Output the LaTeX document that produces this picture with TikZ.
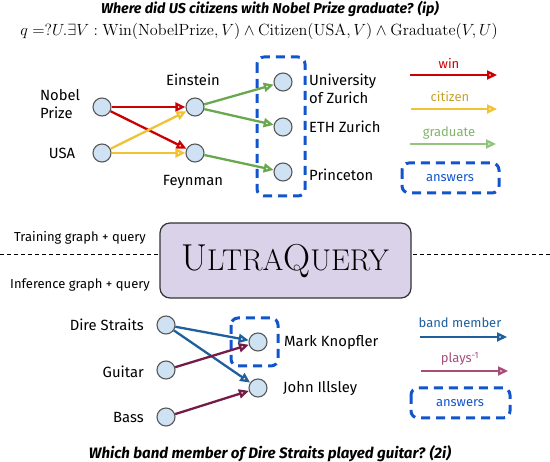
\documentclass[tikz,border=0pt]{standalone}
\usepackage[no-math]{fontspec}
\usepackage{graphicx}
\setmainfont{Fira Sans}
\usetikzlibrary{arrows.meta}
\definecolor{nodefill}{HTML}{CFE2F3}
\definecolor{nodedraw}{HTML}{595959}
\definecolor{cwin}{HTML}{CC0000}
\definecolor{ccit}{HTML}{F1C232}
\definecolor{ccittxt}{HTML}{C9A227}
\definecolor{cgrad}{HTML}{6AA84F}
\definecolor{cgradl}{HTML}{93C47D}
\definecolor{cans}{HTML}{1155CC}
\definecolor{cband}{HTML}{1F5F9E}
\definecolor{cplay}{HTML}{741B47}
\definecolor{cplayl}{HTML}{A64D79}
\definecolor{cuq}{HTML}{D9D2E9}
\newfontfamily\lmfont{Latin Modern Roman}
\begin{document}
\begin{tikzpicture}[x=1pt,y=-1pt,
  ent/.style={circle,draw=nodedraw,fill=nodefill,line width=1.1pt,minimum size=18pt,inner sep=0pt},
  lbl/.style={font=\fontsize{14.8}{17}\selectfont,inner sep=0pt},
  leg/.style={font=\fontsize{13}{15}\selectfont,inner sep=0pt},
  mid/.style={font=\fontsize{13}{15}\selectfont,inner sep=0pt},
  rel/.style={line width=2.3pt,-{Triangle[open,length=10pt,width=9pt]}},
  ansbox/.style={draw=cans,line width=3pt,dash pattern=on 9pt off 6pt,rounded corners=7pt},
  ttl/.style={font=\bfseries\itshape,inner sep=0pt}]
\useasboundingbox (0,0) rectangle (550,462);
% titles
\node[ttl,font=\fontsize{14.3}{16}\selectfont\bfseries\itshape] (t1) at (270,9) {Where did US citizens with Nobel Prize graduate? (ip)};
\node[inner sep=0pt,font=\fontsize{14.4}{17}\selectfont] (q) at (259,31) {\scalebox{1.125}{$q = ?U . \exists V : \mathrm{Win}(\mathrm{NobelPrize}, V) \wedge \mathrm{Citizen}(\mathrm{USA}, V) \wedge \mathrm{Graduate}(V, U)$}};
% top answer box
\draw[ansbox] (257,57) rectangle (305,196);
% top nodes
\node[ent] (np) at (102,107) {};
\node[ent] (usa) at (102,153) {};
\node[ent] (ein) at (195,107) {};
\node[ent] (fey) at (195,153) {};
\node[ent] (uzh) at (283,82) {};
\node[ent] (eth) at (283,127) {};
\node[ent] (pri) at (283,172) {};
\node[lbl,align=left] (npl) at (60,104) {Nobel\\[1pt]Prize};
\node[lbl] (usal) at (62,153) {USA};
\node[lbl] (einl) at (193,80) {Einstein};
\node[lbl] (feyl) at (193,182) {Feynman};
\node[lbl,align=left,anchor=west] (uzhl) at (309,89) {University\\[1pt]of Zurich};
\node[lbl,anchor=west] (ethl) at (309,127) {ETH Zurich};
\node[lbl,anchor=west] (pril) at (309,175) {Princeton};
% top edges
\draw[rel,cwin] (np) -- (ein);
\draw[rel,cwin] (np) -- (fey);
\draw[rel,ccit] (usa) -- (ein);
\draw[rel,ccit] (usa) -- (fey);
\draw[rel,cgrad] (ein) -- (uzh);
\draw[rel,cgrad] (ein) -- (eth);
\draw[rel,cgrad] (fey) -- (pri);
% top legend
\coordinate (w1) at (410,75); \coordinate (w2) at (497,75);
\coordinate (c1) at (411,109); \coordinate (c2) at (497,109);
\coordinate (g1) at (410,144); \coordinate (g2) at (496,144);
\draw[rel,cwin] (w1) -- (w2);
\draw[rel,ccit] (c1) -- (c2);
\draw[rel,cgradl] (g1) -- (g2);
\node[leg,text=cwin] (wl) at (449,63) {win};
\node[leg,text=ccittxt] (cl) at (450,97) {citizen};
\node[leg,text=cgrad!85] (gl) at (449,133) {graduate};
\draw[ansbox] (402,163) rectangle (499,193);
\node[leg,text=cans] (al1) at (450,178) {answers};
% middle
\draw[dash pattern=on 4pt off 3pt,line width=0.7pt] (0,254) -- (160,254);
\draw[dash pattern=on 4pt off 3pt,line width=0.7pt] (413,254) -- (550,254);
\node[mid] (tr) at (80,238) {Training graph + query};
\node[mid] (inf) at (80,285) {Inference graph + query};
\node[draw=black!80,fill=cuq,line width=1.2pt,rounded corners=10pt,minimum width=251pt,minimum height=75pt,inner sep=0pt] (uq) at (285.5,260.5) {};
\node[inner sep=0pt,font=\lmfont] (uqt) at (285,261) {\fontsize{37.5}{40}\selectfont U\fontsize{30}{32}\selectfont LTRA\fontsize{37.5}{40}\selectfont Q\fontsize{30}{32}\selectfont UERY};
% bottom answer box
\draw[ansbox] (231,318) rectangle (278,366);
% bottom nodes
\node[ent] (ds) at (166,325) {};
\node[ent] (gu) at (166,370) {};
\node[ent] (ba) at (166,417) {};
\node[ent] (mk) at (258,342) {};
\node[ent] (ji) at (258,388) {};
\node[lbl,anchor=east] (dsl) at (144,325) {Dire Straits};
\node[lbl,anchor=east] (gul) at (144,372) {Guitar};
\node[lbl,anchor=east] (bal) at (144,417) {Bass};
\node[lbl,anchor=west] (mkl) at (284,343) {Mark Knopfler};
\node[lbl,anchor=west] (jil) at (283,389) {John Illsley};
\draw[rel,cband] (ds) -- (mk);
\draw[rel,cband] (ds) -- (ji);
\draw[rel,cplay] (gu) -- (mk);
\draw[rel,cplay] (ba) -- (ji);
% bottom legend
\coordinate (b1) at (420,337); \coordinate (b2) at (507,337);
\coordinate (p1) at (421,371); \coordinate (p2) at (508,371);
\draw[rel,cband] (b1) -- (b2);
\draw[rel,cplayl] (p1) -- (p2);
\node[leg,text=cband] (bl) at (460,323) {band member};
\node[leg,text=cplayl] (pl) at (460,359) {plays\textsuperscript{-1}};
\draw[ansbox] (411,388) rectangle (510,418);
\node[leg,text=cans] (al2) at (460,403) {answers};
\node[ttl,font=\fontsize{15.1}{17}\selectfont\bfseries\itshape] (t2) at (270,454) {Which band member of Dire Straits played guitar? (2i)};
\end{tikzpicture}
\end{document}
